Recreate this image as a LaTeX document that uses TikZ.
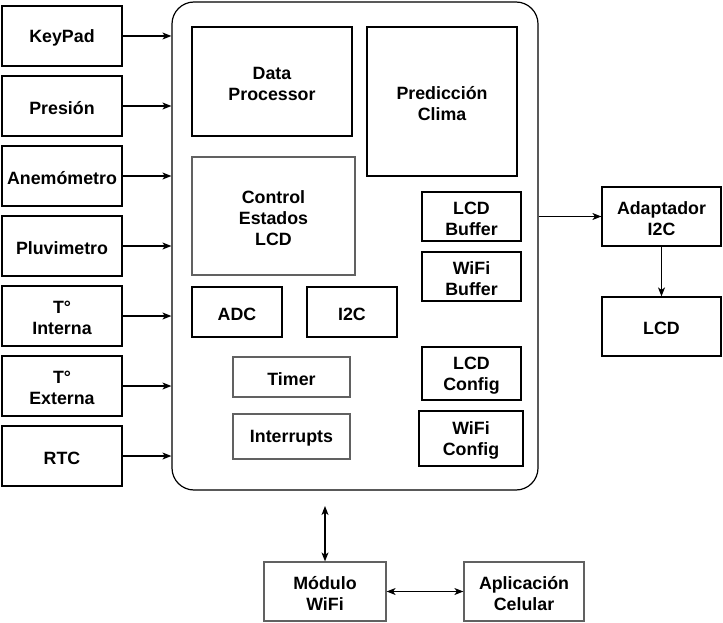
\documentclass[tikz,border=0pt]{standalone}
\usepackage{fontspec}
\setmainfont{Liberation Sans}
\usetikzlibrary{arrows.meta}
\tikzset{
  box/.style={draw=black, line width=1.2pt, fill=white, inner sep=0pt},
  gbox/.style={box, draw=black!62},
  lbl/.style={align=center, inner sep=0pt, font=\bfseries\fontsize{17.8}{21}\selectfont},
  arr/.style={line width=1.1pt, -{Stealth[length=9pt,width=7pt,inset=2.5pt]}},
  darr/.style={line width=1.1pt, {Stealth[length=9pt,width=7pt,inset=2.5pt]}-{Stealth[length=9pt,width=7pt,inset=2.5pt]}}
}
% \blk{style}{name}{cx}{cy}{w}{h}{text}
\newcommand{\blk}[7]{%
  \node[#1, minimum width=#5pt, minimum height=#6pt] (#2) at (#3,#4) {};
  \node[lbl] (#2-t) at ([yshift=-2pt]#2.center) {#7};
}
\begin{document}
\begin{tikzpicture}[x=1pt,y=-1pt]
\useasboundingbox (0,0) rectangle (723,623);
% main box
\node[draw=black, line width=1.2pt, rounded corners=22pt, minimum width=366pt, minimum height=488pt, inner sep=0pt] (main) at (355,246) {};
% left inputs
\blk{box}{keypad}{62}{36}{120}{60}{KeyPad}
\blk{box}{presion}{62}{106}{120}{60}{Presión}
\blk{box}{anemo}{62}{176}{120}{60}{Anemómetro}
\blk{box}{pluvi}{62}{246}{120}{60}{Pluvimetro}
\blk{box}{tint}{62}{316}{120}{60}{T°\\Interna}
\blk{box}{text}{62}{386}{120}{60}{T°\\Externa}
\blk{box}{rtc}{62}{456}{120}{60}{RTC}
% inner blocks
\blk{box}{dp}{272}{81.5}{160}{109}{Data\\Processor}
\blk{box}{pred}{442}{101.5}{150}{149}{Predicción\\Clima}
\blk{gbox}{ctrl}{273.5}{216}{163}{118}{Control\\Estados\\LCD}
\blk{box}{adc}{237}{312}{90}{50}{ADC}
\blk{box}{i2c}{352}{312}{90}{50}{I2C}
\blk{box}{lcdbuf}{471.5}{216.5}{99}{49}{LCD\\Buffer}
\blk{box}{wifibuf}{471.5}{276.5}{99}{49}{WiFi\\Buffer}
\blk{gbox}{timer}{291.5}{377}{117}{40}{Timer}
\blk{gbox}{intr}{291.5}{436.5}{117}{45}{Interrupts}
\blk{box}{lcdcfg}{471.5}{373.5}{99}{53}{LCD\\Config}
\blk{box}{wificfg}{471}{438.5}{104}{55}{WiFi\\Config}
% right side
\blk{box}{adapt}{661.5}{216.5}{119}{59}{Adaptador\\I2C}
\blk{box}{lcd}{661.5}{326.5}{119}{59}{LCD}
% bottom
\blk{gbox}{modulo}{325}{591.5}{122}{59}{Módulo\\WiFi}
\blk{gbox}{app}{524}{591.5}{120}{59}{Aplicación\\Celular}
\coordinate (wtop) at (325,506);
% connectors
\foreach \n in {keypad,presion,anemo,pluvi,tint,text,rtc}
  \draw[arr] (\n.east) -- (\n.east -| main.west);
\draw[arr] (main.east |- adapt.west) -- (adapt.west);
\draw[arr] (adapt.south) -- (lcd.north);
\draw[darr] (wtop) -- (modulo.north);
\draw[darr] (modulo.east) -- (app.west);
\end{tikzpicture}
\end{document}
